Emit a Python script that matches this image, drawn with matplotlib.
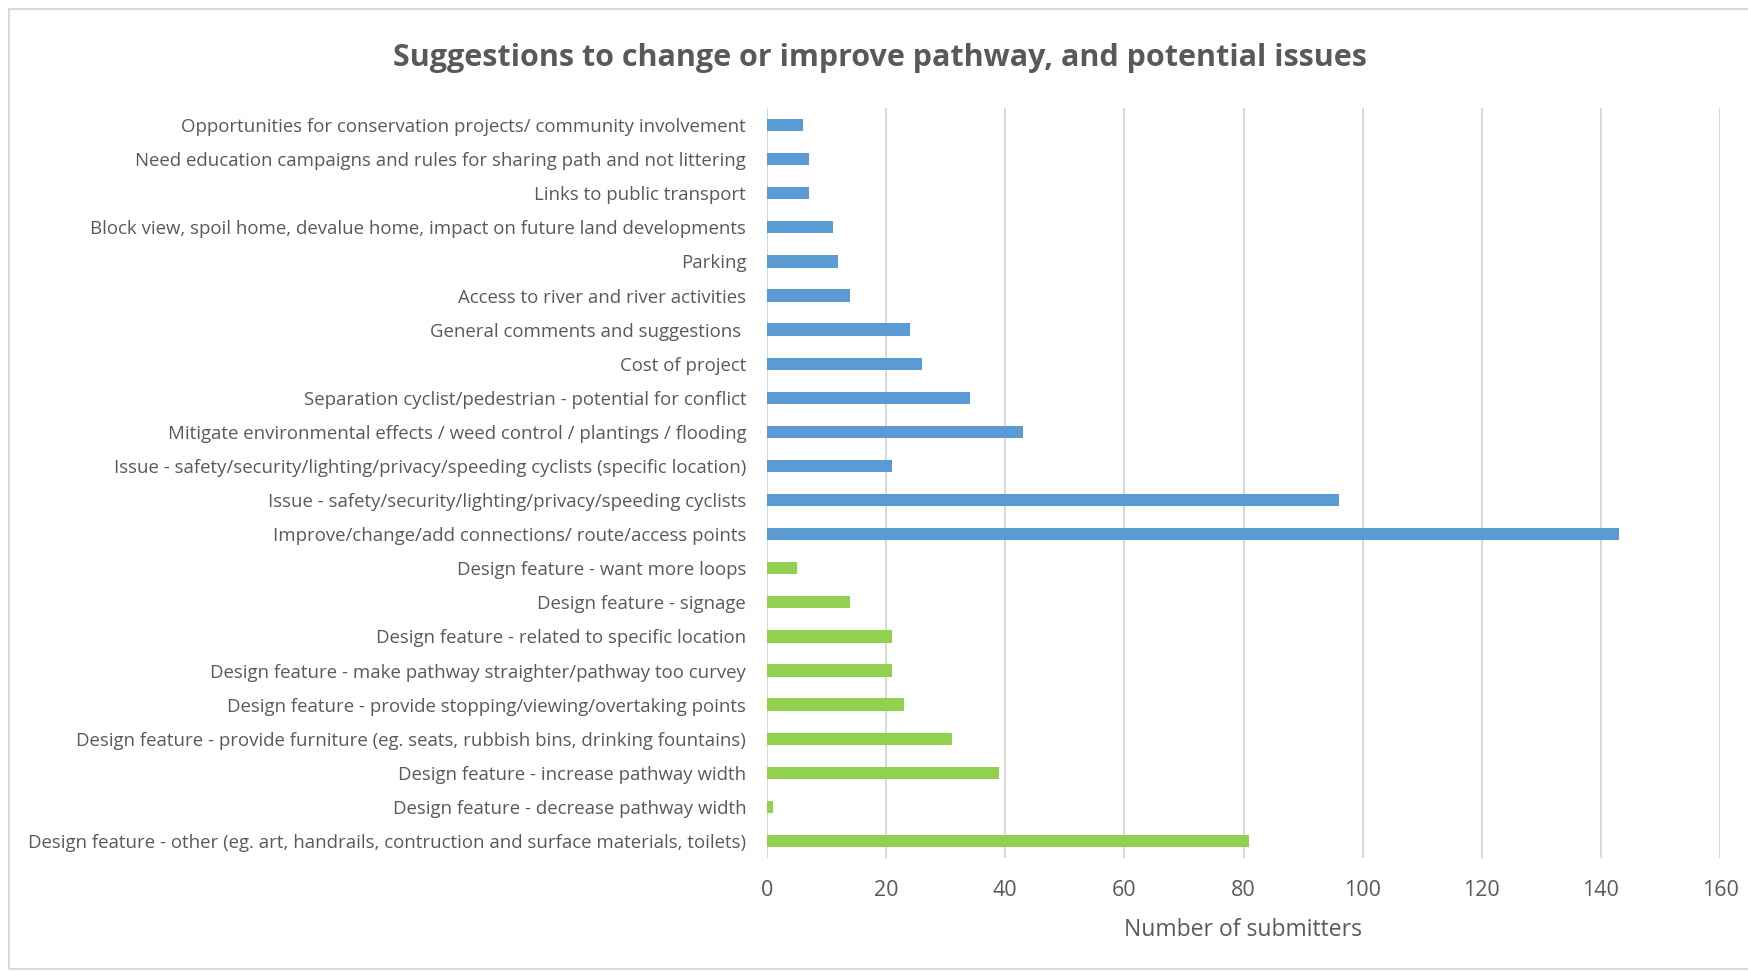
import matplotlib.pyplot as plt
from matplotlib.patches import Rectangle
import numpy as np

plt.rcParams['font.family'] = ['Open Sans', 'DejaVu Sans']

# Categories, top to bottom as shown
categories = [
    'Opportunities for conservation projects/ community involvement',
    'Need education campaigns and rules for sharing path and not littering',
    'Links to public transport',
    'Block view, spoil home, devalue home, impact on future land developments',
    'Parking',
    'Access to river and river activities',
    'General comments and suggestions ',
    'Cost of project',
    'Separation cyclist/pedestrian - potential for conflict',
    'Mitigate environmental effects / weed control / plantings / flooding',
    'Issue - safety/security/lighting/privacy/speeding cyclists (specific location)',
    'Issue - safety/security/lighting/privacy/speeding cyclists',
    'Improve/change/add connections/ route/access points',
    'Design feature - want more loops',
    'Design feature - signage',
    'Design feature - related to specific location',
    'Design feature - make pathway straighter/pathway too curvey',
    'Design feature - provide stopping/viewing/overtaking points',
    'Design feature - provide furniture (eg. seats, rubbish bins, drinking fountains)',
    'Design feature - increase pathway width',
    'Design feature - decrease pathway width',
    'Design feature - other (eg. art, handrails, contruction and surface materials, toilets)',
]
submitters = [6, 7, 7, 11, 12, 14, 24, 26, 34, 43, 21, 96, 143,
              5, 14, 21, 21, 23, 31, 39, 1, 81]
groups = ['issue'] * 13 + ['design'] * 9

group_colors = {'issue': '#5B9BD5', 'design': '#92D050'}
text_color = '#595959'
grid_color = '#D9D9D9'

fig = plt.figure(figsize=(17.49, 9.71), dpi=100)
ax = fig.add_axes([767 / 1749, 1 - 858 / 971, (1720 - 767) / 1749, (858 - 108) / 971])

y = np.arange(len(categories))
ax.barh(y, submitters, height=0.36, color=[group_colors[g] for g in groups], zorder=3)

ax.set_xlim(0, 160)
ax.set_ylim(len(categories) - 0.5, -0.5)
ax.set_xticks(np.arange(0, 161, 20))
ax.set_yticks(y)
ax.set_yticklabels(categories, fontsize=13.4, color=text_color)
ax.tick_params(axis='y', length=0, pad=15)
ax.tick_params(axis='x', length=0, pad=16, labelsize=15.5, labelcolor=text_color)

ax.grid(axis='x', color=grid_color, linewidth=1.5, zorder=0)
for side in ['top', 'right', 'bottom', 'left']:
    ax.spines[side].set_visible(False)

ax.set_xlabel('Number of submitters', fontsize=16.5, color=text_color, labelpad=12)

fig.text(0.503, 1 - 58 / 971, 'Suggestions to change or improve pathway, and potential issues',
         ha='center', va='center', fontsize=22, fontweight='bold', color=text_color)

# chart area frame
fig.patches.append(Rectangle((9 / 1749, 2 / 971), 1.1, 960 / 971, transform=fig.transFigure,
                             fill=False, edgecolor=grid_color, linewidth=1.5))

fig.savefig('out.png', dpi=100)
